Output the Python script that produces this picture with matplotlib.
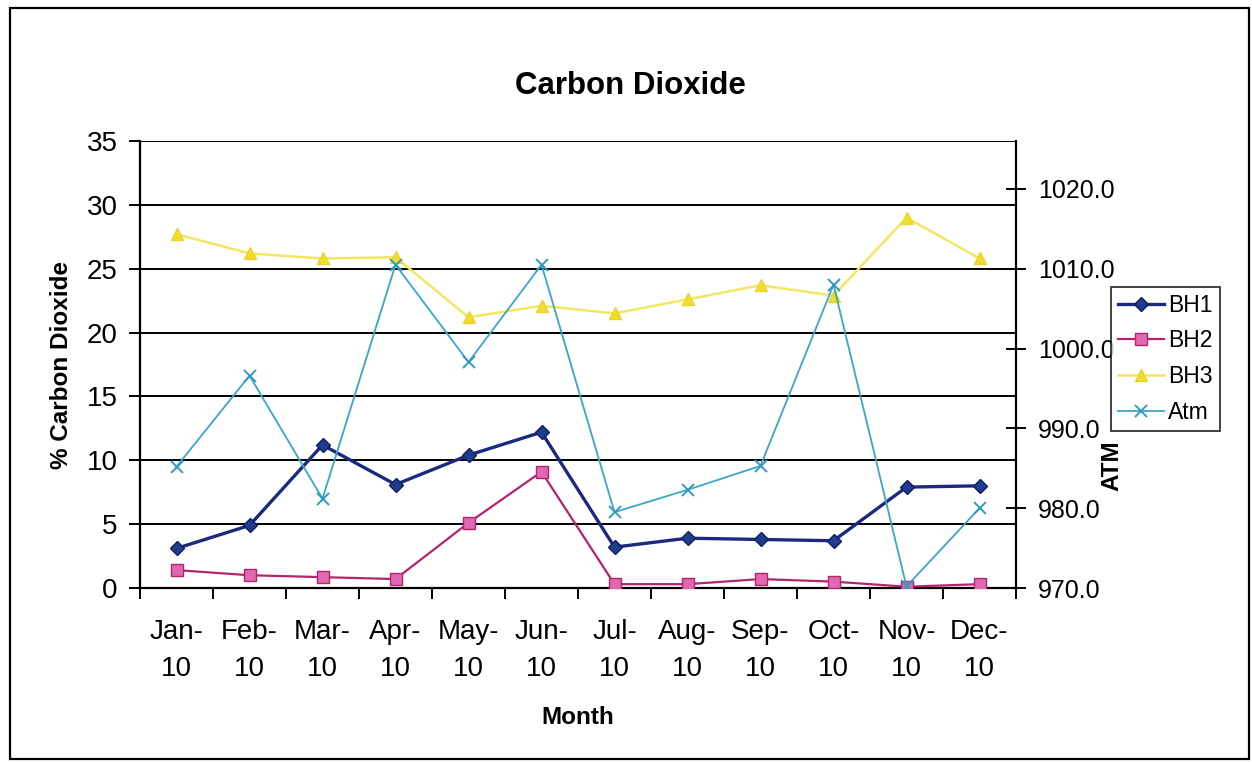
import matplotlib
matplotlib.use("Agg")
import matplotlib.pyplot as plt
from matplotlib.patches import Rectangle

plt.rcParams['font.family'] = ['Liberation Sans', 'DejaVu Sans']

# Monthly readings, 2010
months = ["Jan-\n10", "Feb-\n10", "Mar-\n10", "Apr-\n10", "May-\n10", "Jun-\n10",
          "Jul-\n10", "Aug-\n10", "Sep-\n10", "Oct-\n10", "Nov-\n10", "Dec-\n10"]
bh1 = [3.1, 4.9, 11.2, 8.1, 10.4, 12.2, 3.2, 3.9, 3.8, 3.7, 7.9, 8.0]
bh2 = [1.4, 1.0, 0.85, 0.7, 5.1, 9.1, 0.3, 0.3, 0.7, 0.5, 0.1, 0.3]
bh3 = [27.7, 26.2, 25.8, 25.9, 21.2, 22.1, 21.5, 22.6, 23.7, 22.9, 29.0, 25.8]
atm = [985.2, 996.6, 981.2, 1010.5, 998.3, 1010.5, 979.5, 982.3, 985.3, 1008.0, 970.2, 980.0]

left_ticks = [0, 5, 10, 15, 20, 25, 30, 35]
right_ticks = [970, 980, 990, 1000, 1010, 1020]

W, H = 1252, 762
fig = plt.figure(figsize=(W / 100, H / 100), dpi=100)
ax = fig.add_axes([140 / W, 1 - 588 / H, (1016 - 140) / W, (588 - 141) / H])
ax2 = ax.twinx()

x = list(range(len(months)))

l1, = ax.plot(x, bh1, color='#1b2a7e', lw=2.4, marker='D', ms=7,
              mfc='#1f3c8f', mec='#10205e', label='BH1', zorder=5)
l2, = ax.plot(x, bh2, color='#b3236e', lw=1.6, marker='s', ms=8,
              mfc='#e068b0', mec='#b3236e', label='BH2', zorder=4)
l3, = ax.plot(x, bh3, color='#f3e663', lw=1.8, marker='^', ms=8,
              mfc='#f2de28', mec='#e8d430', label='BH3', zorder=3)
l4, = ax2.plot(x, atm, color='#3aa6c8', lw=1.3, marker='x', ms=9, mew=1.4,
               mec='#2f9cc4', label='Atm', zorder=3)

# primary axis
ax.set_xlim(-0.5, len(months) - 0.5)
ax.set_ylim(0, 35)
ax.set_yticks(left_ticks)
ax.set_yticklabels([str(v) for v in left_ticks], fontsize=20)
ax.grid(axis='y', color='black', lw=1.4)
ax.set_axisbelow(True)
ax.set_xticks([i - 0.5 for i in range(len(months) + 1)])
ax.set_xticklabels([])
ax.set_xticks(x, minor=True)
ax.set_xticklabels(months, minor=True, fontsize=20, linespacing=1.55)
ax.tick_params(axis='x', which='major', direction='out', length=8, width=1.4)
ax.tick_params(axis='x', which='minor', length=0, pad=22)
ax.tick_params(axis='y', direction='out', length=8, width=1.4, pad=8)
for s in ['left', 'bottom']:
    ax.spines[s].set_linewidth(1.6)
ax.spines['top'].set_visible(False)
ax.spines['right'].set_visible(False)

# secondary axis
ax2.set_ylim(970, 1026)
ax2.set_yticks(right_ticks)
ax2.set_yticklabels([f"{v:.1f}" for v in right_ticks], fontsize=18)
ax2.tick_params(axis='y', direction='inout', length=14, width=1.4, pad=9)
ax2.spines['right'].set_linewidth(1.6)
for s in ['left', 'top', 'bottom']:
    ax2.spines[s].set_visible(False)

# titles and axis labels
fig.text(630 / W, 1 - 86 / H, "Carbon Dioxide", ha='center', va='center',
         fontsize=22.5, fontweight='bold')
fig.text(578 / W, 1 - 718 / H, "Month", ha='center', va='center',
         fontsize=17.5, fontweight='bold')
fig.text(62 / W, 1 - 365 / H, "% Carbon Dioxide", ha='center', va='center',
         rotation=90, fontsize=17.5, fontweight='bold')
fig.text(1112 / W, 1 - 466 / H, "ATM", ha='center', va='center',
         rotation=90, fontsize=17.5, fontweight='bold')

# legend
leg = fig.legend(handles=[l1, l2, l3, l4], loc='upper left',
                 bbox_to_anchor=(1111 / W, 1 - 287 / H), fontsize=16.5,
                 frameon=True, fancybox=False, edgecolor='black',
                 borderpad=0.3, labelspacing=0.55, handlelength=2.0,
                 handletextpad=0.2, borderaxespad=0)
leg.get_frame().set_linewidth(1.3)

# outer chart frame
fig.add_artist(Rectangle((10 / W, 1 - 759 / H), (1249 - 10) / W, (759 - 8) / H,
                         transform=fig.transFigure, fill=False,
                         edgecolor='black', lw=1.6))

fig.savefig("out.png", dpi=100)
